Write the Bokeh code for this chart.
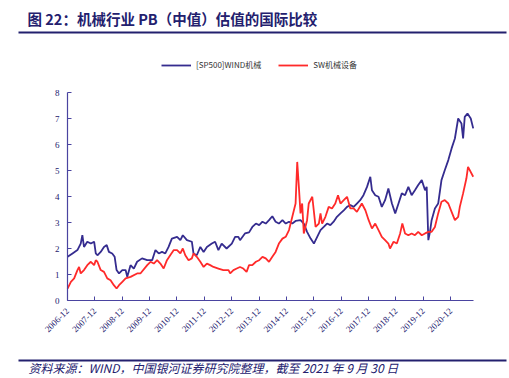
from bokeh.plotting import figure
from bokeh.models import (FixedTicker, CustomJSTickFormatter, Range1d, LinearAxis,
                          Legend, LegendItem)
from bokeh.core.properties import value
from bokeh.embed import file_html
from bokeh.resources import INLINE

# ---------------- data (decimal years, PB values) ----------------
blue_t = [2006.92, 2007.10, 2007.28, 2007.40, 2007.46, 2007.52, 2007.64, 2007.77, 2007.89,
          2007.95, 2008.01, 2008.13, 2008.25, 2008.35, 2008.43, 2008.55, 2008.64, 2008.71,
          2008.80, 2008.92, 2009.04, 2009.10, 2009.22, 2009.34, 2009.46, 2009.64, 2009.83,
          2010.01, 2010.13, 2010.25, 2010.37, 2010.49, 2010.61, 2010.73, 2010.92, 2011.04,
          2011.13, 2011.28, 2011.46, 2011.52, 2011.64, 2011.77, 2011.89, 2012.01, 2012.19,
          2012.31, 2012.43, 2012.55, 2012.73, 2012.92, 2013.04, 2013.16, 2013.22, 2013.40,
          2013.55, 2013.67, 2013.80, 2013.92, 2014.04, 2014.16, 2014.28, 2014.40, 2014.52,
          2014.64, 2014.77, 2014.89, 2015.01, 2015.13, 2015.25, 2015.43, 2015.55, 2015.67,
          2015.80, 2015.92, 2016.04, 2016.16, 2016.28, 2016.40, 2016.52, 2016.64, 2016.76,
          2016.89, 2017.01, 2017.13, 2017.25, 2017.37, 2017.49, 2017.61, 2017.73, 2017.86,
          2017.98, 2018.04, 2018.16, 2018.28, 2018.40, 2018.52, 2018.64, 2018.77, 2018.89,
          2019.01, 2019.13, 2019.25, 2019.37, 2019.49, 2019.61, 2019.73, 2019.86, 2019.98,
          2020.04, 2020.10, 2020.16, 2020.22, 2020.34, 2020.46, 2020.58, 2020.70, 2020.83,
          2020.95, 2021.07, 2021.19, 2021.31, 2021.37, 2021.43, 2021.53, 2021.65, 2021.74]
blue_v = [1.68, 1.81, 1.94, 2.19, 2.51, 2.06, 2.26, 2.19, 2.26,
          1.81, 1.74, 1.87, 2.06, 2.13, 1.87, 1.81, 1.68, 1.17,
          1.04, 1.17, 1.17, 0.91, 1.36, 1.23, 1.49, 1.62, 1.55,
          1.55, 1.94, 1.81, 1.87, 1.81, 2.06, 2.38, 2.45, 2.32,
          2.51, 2.32, 2.26, 1.81, 1.74, 2.06, 1.87, 2.06, 2.19,
          2.26, 1.94, 2.19, 2.00, 2.19, 2.45, 2.45, 2.32, 2.58,
          2.62, 2.83, 2.96, 2.90, 3.03, 2.96, 3.09, 3.24, 3.03,
          2.96, 3.09, 2.96, 3.03, 2.96, 3.06, 3.09, 2.96, 2.64,
          2.38, 2.19, 2.45, 2.71, 2.83, 2.96, 2.90, 3.03, 3.22,
          3.35, 3.47, 3.60, 3.67, 3.60, 3.73, 3.86, 4.05, 4.37,
          4.76, 4.24, 4.05, 3.99, 3.60, 3.86, 4.31, 3.73, 3.35,
          3.73, 4.12, 4.05, 4.37, 4.05, 4.24, 4.44, 4.63, 4.24,
          4.37, 2.32, 2.64, 3.09, 3.54, 3.73, 4.63, 5.01, 5.40,
          5.85, 6.23, 7.00, 6.81, 6.23, 7.06, 7.19, 7.00, 6.62]

red_t = [2006.92, 2007.04, 2007.16, 2007.28, 2007.34, 2007.40, 2007.52, 2007.64, 2007.77,
         2007.89, 2007.95, 2008.01, 2008.13, 2008.25, 2008.37, 2008.49, 2008.61, 2008.71,
         2008.80, 2008.92, 2009.04, 2009.22, 2009.46, 2009.58, 2009.83, 2009.95, 2010.07,
         2010.19, 2010.31, 2010.43, 2010.55, 2010.67, 2010.80, 2010.92, 2011.04, 2011.13,
         2011.22, 2011.34, 2011.46, 2011.52, 2011.64, 2011.77, 2011.89, 2012.01, 2012.13,
         2012.25, 2012.43, 2012.61, 2012.80, 2012.86, 2012.98, 2013.10, 2013.22, 2013.34,
         2013.46, 2013.55, 2013.67, 2013.80, 2013.92, 2014.04, 2014.16, 2014.28, 2014.40,
         2014.52, 2014.64, 2014.77, 2014.89, 2015.01, 2015.13, 2015.25, 2015.31, 2015.37,
         2015.43, 2015.49, 2015.55, 2015.67, 2015.73, 2015.86, 2015.98, 2016.10, 2016.16,
         2016.22, 2016.34, 2016.46, 2016.58, 2016.70, 2016.80, 2016.89, 2017.01, 2017.13,
         2017.25, 2017.37, 2017.49, 2017.67, 2017.80, 2017.92, 2018.04, 2018.16, 2018.28,
         2018.40, 2018.52, 2018.64, 2018.70, 2018.83, 2018.95, 2019.07, 2019.15, 2019.25,
         2019.37, 2019.49, 2019.61, 2019.73, 2019.86, 2019.98, 2020.10, 2020.22, 2020.34,
         2020.46, 2020.58, 2020.70, 2020.83, 2020.95, 2021.07, 2021.19, 2021.25, 2021.37,
         2021.49, 2021.55, 2021.74]
red_v = [0.46, 0.72, 0.85, 1.17, 1.29, 1.04, 1.17, 1.36, 1.49,
         1.36, 1.55, 1.49, 1.17, 1.10, 0.85, 0.78, 0.59, 0.46,
         0.59, 0.72, 0.85, 0.91, 1.04, 1.04, 1.36, 1.49, 1.42,
         1.55, 1.42, 1.23, 1.55, 1.74, 1.94, 1.94, 1.81, 2.00,
         1.74, 1.55, 1.62, 1.81, 1.68, 1.49, 1.29, 1.42, 1.36,
         1.29, 1.23, 1.17, 1.17, 1.04, 1.17, 1.23, 1.29, 1.23,
         1.10, 1.36, 1.36, 1.49, 1.55, 1.68, 1.62, 1.49, 1.68,
         1.87, 2.19, 2.38, 2.45, 2.71, 3.22, 3.73, 5.33, 4.37,
         3.35, 3.73, 2.58, 3.09, 3.73, 3.99, 2.83, 2.96, 3.35,
         2.96, 3.22, 3.60, 3.54, 3.73, 4.05, 3.73, 3.86, 3.99,
         3.54, 3.54, 3.41, 3.73, 3.47, 3.09, 2.77, 2.96, 2.71,
         2.45, 2.32, 2.19, 2.00, 2.26, 2.19, 2.58, 2.96, 2.58,
         2.51, 2.58, 2.51, 2.64, 2.51, 2.58, 2.64, 2.64, 2.83,
         3.35, 3.80, 3.86, 3.73, 3.41, 3.09, 3.22, 3.60, 4.12,
         4.69, 5.14, 4.76]

x_start, x_end = 2006.917, 2021.75
y_ticks = [0, 1, 2, 3, 4, 5, 6, 7, 8]
tick_years = [2006.917 + k for k in range(15)]
tick_labels = ["2006-12", "2007-12", "2008-12", "2009-12", "2010-12", "2011-12", "2012-12",
               "2013-12", "2014-12", "2015-12", "2016-12", "2017-12", "2018-12", "2019-12",
               "2020-12"]
series_names = ["[SP500]WIND机械", "SW机械设备"]
title_text = "图 22：机械行业 PB（中值）估值的国际比较"
source_text = "资料来源：WIND，中国银河证券研究院整理，截至 2021 年 9 月 30 日"

NAVY = "#23206e"
AXIS = "#4a44a0"
BLUE = "#352c8f"
RED = "#ff2a2a"

# ---------------- canvas & plot-area geometry (pixels) ----------------
W, H = 507, 376
FL, FR, FT, FB = 67, 473, 92, 300          # plot area box
kx = (x_end - x_start) / (FR - FL)         # data units per pixel
ky = (y_ticks[-1] - y_ticks[0]) / (FB - FT)

p = figure(width=W, height=H, output_backend="svg", toolbar_location=None,
           x_range=Range1d(x_start - FL * kx, x_start + (W - FL) * kx),
           y_range=Range1d(-(H - FB) * ky, FB * ky),
           x_axis_location=None, y_axis_location=None,
           min_border=0, min_border_left=0, min_border_right=0,
           min_border_top=0, min_border_bottom=0,
           background_fill_color="white", border_fill_color="white")
p.outline_line_color = None
p.grid.visible = False
p.extra_x_ranges = {"px": Range1d(0, W)}
p.extra_y_ranges = {"py": Range1d(H, 0)}

r1 = p.line(blue_t, blue_v, line_color=BLUE, line_width=1.8)
r2 = p.line(red_t, red_v, line_color=RED, line_width=1.8)

xax = LinearAxis(fixed_location=0, bounds=(x_start, x_end))
yax = LinearAxis(fixed_location=x_start, bounds=(y_ticks[0], y_ticks[-1]))
for ax in (xax, yax):
    ax.axis_line_color = AXIS
    ax.axis_line_width = 1.2
    ax.major_tick_line_color = AXIS
    ax.major_tick_in = 4
    ax.major_tick_out = 0
    ax.minor_tick_line_color = None
    ax.major_label_text_font = "Liberation Serif"
    ax.major_label_text_font_size = "9px"
    ax.major_label_text_color = NAVY
yax.ticker = FixedTicker(ticks=y_ticks)
yax.major_label_standoff = 8
xax.ticker = FixedTicker(ticks=tick_years)
labels_js = "{" + ",".join(f'"{i}":"{s}"' for i, s in enumerate(tick_labels)) + "}"
xax.formatter = CustomJSTickFormatter(
    code=f"const m={labels_js}; return m[String(Math.round(tick-2006.917))] || '';")
xax.major_label_orientation = 0.785
xax.major_label_standoff = 9
p.add_layout(xax, "below")
p.add_layout(yax, "left")

# legend
legend = Legend(items=[LegendItem(label=series_names[0], renderers=[r1]),
                       LegendItem(label=series_names[1], renderers=[r2])],
                orientation="horizontal", location=(161, H - 70),
                label_text_font="Noto Sans CJK SC", label_text_font_size="8px",
                label_text_color="#333333", glyph_width=30, glyph_height=10,
                label_standoff=5, spacing=17, padding=0, margin=0,
                border_line_color=None, background_fill_alpha=0)
p.add_layout(legend, "center")

# title, rules, source (pixel coordinates through the extra ranges)
deco = dict(x_range_name="px", y_range_name="py")
p.text(x=[27], y=[18], text=[title_text], text_font=value("Noto Sans CJK SC"),
       text_font_style="bold", text_font_size="14.5px", text_color=NAVY,
       text_baseline="middle", **deco)
p.segment(x0=[18, 18], y0=[32, 360], x1=[506, 506], y1=[32, 360],
          line_color=NAVY, line_width=2, **deco)
p.text(x=[28], y=[367], text=[source_text], text_font=value("Noto Sans CJK SC"),
       text_font_style="italic", text_font_size="12px", text_color=NAVY,
       text_baseline="middle", **deco)

open("out.html", "w").write(file_html(p, INLINE))
